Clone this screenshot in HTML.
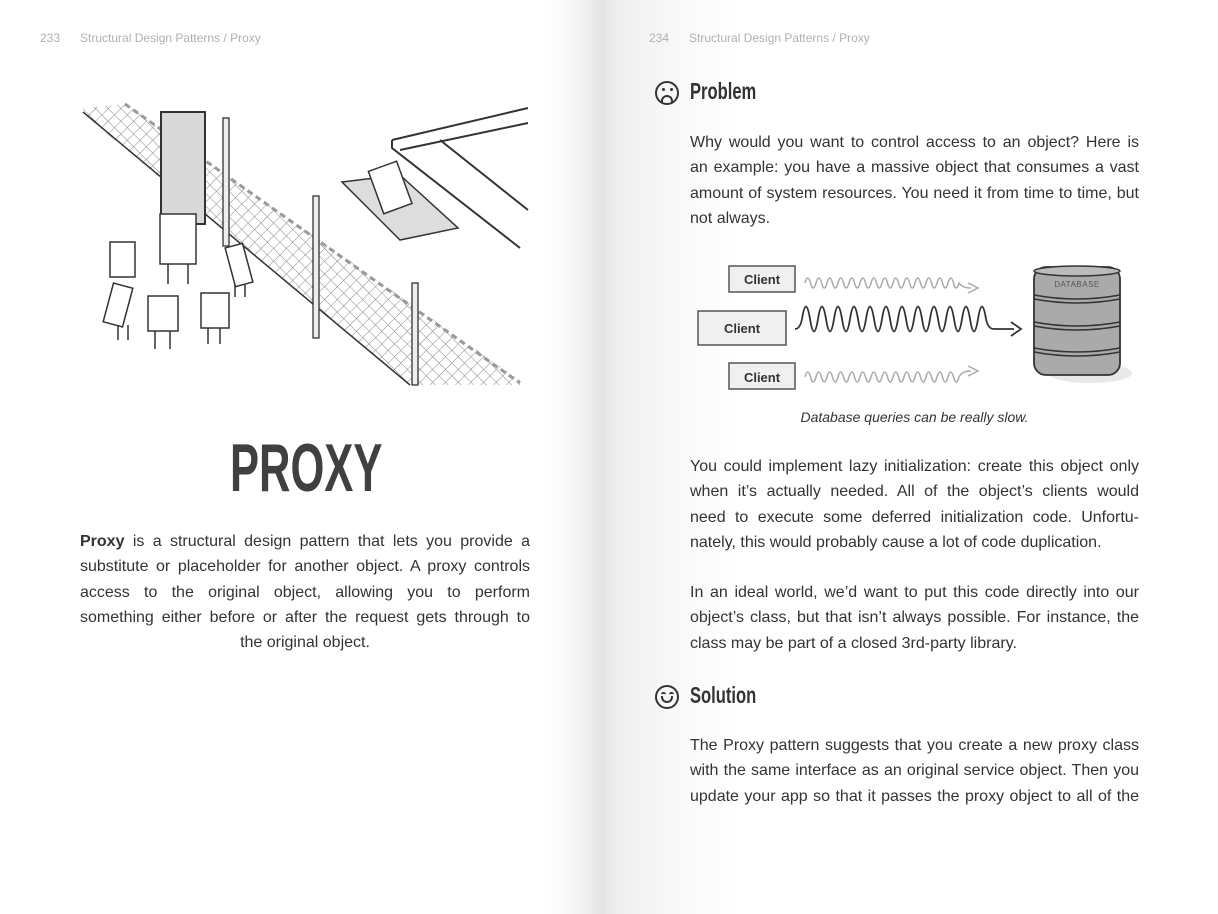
<!DOCTYPE html>
<html><head><meta charset="utf-8"><style>
html,body{margin:0;padding:0}
body{width:1218px;height:914px;position:relative;overflow:hidden;background:#fff;font-family:"Liberation Sans",sans-serif;color:#333}
.gut{position:absolute;left:540px;top:0;width:200px;height:914px;background:linear-gradient(to right,#fff 0%,#fbfbfb 11%,#eeeeee 24%,#e3e3e3 31%,#ececec 36%,#f3f3f3 50%,#f9f9f9 70%,#fff 100%)}
.hdr{position:absolute;top:31px;font-size:12px;color:#b0b0b0}
.p{position:absolute;font-size:16px;line-height:25.3px;color:#333}
.p div{text-align:justify;text-align-last:justify;white-space:nowrap}
.p div.l{text-align-last:left}
h2{position:absolute;margin:0;font-family:"Liberation Sans",sans-serif;font-weight:bold;font-size:23px;color:#333;transform:scaleX(0.72);transform-origin:left}
.face{position:absolute;width:20px;height:20px;border:2px solid #333;border-radius:50%}
</style></head><body>
<div class="gut"></div>
<div class="hdr" style="left:40px">233&nbsp;&nbsp;&nbsp;&nbsp;&nbsp;&nbsp;Structural Design Patterns / Proxy</div>
<div class="hdr" style="left:649px">234&nbsp;&nbsp;&nbsp;&nbsp;&nbsp;&nbsp;Structural Design Patterns / Proxy</div>

<svg style="position:absolute;left:0;top:0" width="540" height="400">
<defs>
<pattern id="mesh" width="9" height="9" patternUnits="userSpaceOnUse" patternTransform="rotate(45)">
<path d="M0 0H9M0 0V9" stroke="#888" stroke-width="1"/></pattern>
</defs>
<polygon points="83,108 125,104 520,380 520,385 410,385 83,114" fill="url(#mesh)"/>
<line x1="83" y1="112" x2="410" y2="385" stroke="#333" stroke-width="1.5"/>
<line x1="125" y1="104" x2="520" y2="383" stroke="#999" stroke-width="3" stroke-dasharray="6 4"/>
<rect x="161" y="112" width="44" height="112" fill="#d9d9d9" stroke="#333" stroke-width="2"/>
<rect x="223" y="118" width="6" height="128" fill="#eee" stroke="#333" stroke-width="1.3"/>
<rect x="313" y="196" width="6" height="142" fill="#eee" stroke="#333" stroke-width="1.3"/>
<rect x="412" y="283" width="6" height="102" fill="#eee" stroke="#333" stroke-width="1.3"/>
<path d="M392 140 L528 108 M400 150 L528 123 M392 140 L392 148 L520 248 M440 140 L528 210" stroke="#333" stroke-width="2" fill="none"/>
<path d="M342 182 L400 175 L458 228 L400 240 Z" fill="#ddd" stroke="#333" stroke-width="1.5"/>
<rect x="375" y="165" width="30" height="45" fill="#fff" stroke="#333" stroke-width="1.5" transform="rotate(-20 390 187)"/>
<g fill="#fff" stroke="#333" stroke-width="1.5">
<rect x="160" y="214" width="36" height="50" />
<rect x="110" y="242" width="25" height="35"/>
<rect x="230" y="245" width="18" height="40" transform="rotate(-15 239 265)"/>
<rect x="108" y="285" width="20" height="40" transform="rotate(15 118 305)"/>
<rect x="148" y="296" width="30" height="35"/>
<rect x="201" y="293" width="28" height="35"/>
</g>
<g stroke="#333" stroke-width="1.5" fill="none">
<path d="M168 264v20M188 264v20M118 325v15M128 325v15M155 331v18M170 331v18M208 328v16M220 328v16M235 285v12M245 285v12"/>
</g>
</svg>

<div style="position:absolute;left:230px;top:429px;font-family:'Liberation Sans',sans-serif;font-weight:bold;font-size:68px;color:#404040;transform:scaleX(0.64);transform-origin:left">PROXY</div>

<div class="p" style="left:80px;top:529px;width:450px">
<div><b>Proxy</b> is a structural design pattern that lets you provide a</div>
<div>substitute or placeholder for another object. A proxy controls</div>
<div>access to the original object, allowing you to perform</div>
<div>something either before or after the request gets through to</div>
<div class="l" style="text-align:center;text-align-last:center">the original object.</div>
</div>

<div class="face" style="left:655px;top:81px"></div>
<div style="position:absolute;left:662px;top:88px;width:3px;height:3px;background:#333;border-radius:50%"></div>
<div style="position:absolute;left:670px;top:88px;width:3px;height:3px;background:#333;border-radius:50%"></div>
<div style="position:absolute;left:661px;top:95px;width:12px;height:8px;border:2px solid #333;border-bottom:none;border-radius:8px 8px 0 0;box-sizing:border-box"></div>
<h2 style="left:690px;top:78px">Problem</h2>

<div class="p" style="left:690px;top:130px;width:449px">
<div>Why would you want to control access to an object? Here is</div>
<div>an example: you have a massive object that consumes a vast</div>
<div>amount of system resources. You need it from time to time, but</div>
<div class="l">not always.</div>
</div>

<svg style="position:absolute;left:690px;top:255px" width="450" height="140">
<g font-family="Liberation Sans,sans-serif" font-weight="bold" font-size="13" fill="#333" text-anchor="middle">
<rect x="39" y="11" width="66" height="26" fill="#f0f0f0" stroke="#555" stroke-width="1.5"/><text x="72" y="29">Client</text>
<rect x="8" y="56" width="88" height="34" fill="#f0f0f0" stroke="#555" stroke-width="1.5"/><text x="52" y="78">Client</text>
<rect x="39" y="108" width="66" height="26" fill="#f0f0f0" stroke="#555" stroke-width="1.5"/><text x="72" y="127">Client</text>
</g>
<path d="M115 28 q2.75 -10 5.5 0 t5.5 0 t5.5 0 t5.5 0 t5.5 0 t5.5 0 t5.5 0 t5.5 0 t5.5 0 t5.5 0 t5.5 0 t5.5 0 t5.5 0 t5.5 0 t5.5 0 t5.5 0 t5.5 0 t5.5 0 t5.5 0 t5.5 0 t5.5 0 t5.5 0 t5.5 0 t5.5 0 t5.5 0 t5.5 0 t5.5 0 t5.5 0 q3 5 12 5 M278 28 l10 5 l-10 5" stroke="#aaa" stroke-width="1.5" fill="none"/>
<path d="M115 122 q2.75 -10 5.5 0 t5.5 0 t5.5 0 t5.5 0 t5.5 0 t5.5 0 t5.5 0 t5.5 0 t5.5 0 t5.5 0 t5.5 0 t5.5 0 t5.5 0 t5.5 0 t5.5 0 t5.5 0 t5.5 0 t5.5 0 t5.5 0 t5.5 0 t5.5 0 t5.5 0 t5.5 0 t5.5 0 t5.5 0 t5.5 0 t5.5 0 t5.5 0 q3 -6 12 -6 M278 111 l10 5 l-10 5" stroke="#aaa" stroke-width="1.5" fill="none"/>
<path d="M105 74 q5 0 7 -10 q4 -25 8 0 t8 0 t8 0 t8 0 t8 0 t8 0 t8 0 t8 0 t8 0 t8 0 t8 0 t8 0 t8 0 t8 0 t8 0 t8 0 t8 0 t8 0 t8 0 t8 0 t8 0 t8 0 t8 0 q2 10 8 10 l20 0 M321 67 l10 7 l-10 7" stroke="#333" stroke-width="1.8" fill="none"/>
<ellipse cx="400" cy="118" rx="42" ry="10" fill="#e8e8e8"/>
<g stroke="#333" stroke-width="1.8" fill="#aaa">
<rect x="344" y="12" width="86" height="108" rx="12"/>
</g>
<g stroke="#333" stroke-width="1.5" fill="#bbb">
<ellipse cx="387" cy="16" rx="43" ry="5"/>
<path d="M344 40 q43 8 86 0 M344 44 q43 8 86 0 M344 67 q43 8 86 0 M344 71 q43 8 86 0 M344 93 q43 8 86 0 M344 97 q43 8 86 0" fill="none"/>
</g>
<text x="387" y="32" font-family="Liberation Sans,sans-serif" font-size="8" fill="#555" text-anchor="middle" letter-spacing="0.5">DATABASE</text>
</svg>

<div style="position:absolute;left:690px;top:409px;width:449px;text-align:center;font-style:italic;font-size:14px;color:#333">Database queries can be really slow.</div>

<div class="p" style="left:690px;top:454px;width:449px">
<div>You could implement lazy initialization: create this object only</div>
<div>when it’s actually needed. All of the object’s clients would</div>
<div>need to execute some deferred initialization code. Unfortu-</div>
<div class="l">nately, this would probably cause a lot of code duplication.</div>
</div>

<div class="p" style="left:690px;top:580px;width:449px">
<div>In an ideal world, we’d want to put this code directly into our</div>
<div>object’s class, but that isn’t always possible. For instance, the</div>
<div class="l">class may be part of a closed 3rd-party library.</div>
</div>

<div class="face" style="left:655px;top:685px"></div>
<div style="position:absolute;left:661px;top:692px;width:5px;height:3px;border-top:2px solid #333;border-radius:50%"></div>
<div style="position:absolute;left:669px;top:692px;width:5px;height:3px;border-top:2px solid #333;border-radius:50%"></div>
<div style="position:absolute;left:661px;top:696px;width:12px;height:7px;border:2px solid #333;border-top:none;border-radius:0 0 8px 8px;box-sizing:border-box"></div>
<h2 style="left:690px;top:682px">Solution</h2>

<div class="p" style="left:690px;top:733px;width:449px">
<div>The Proxy pattern suggests that you create a new proxy class</div>
<div>with the same interface as an original service object. Then you</div>
<div>update your app so that it passes the proxy object to all of the</div>
</div>
</body></html>
